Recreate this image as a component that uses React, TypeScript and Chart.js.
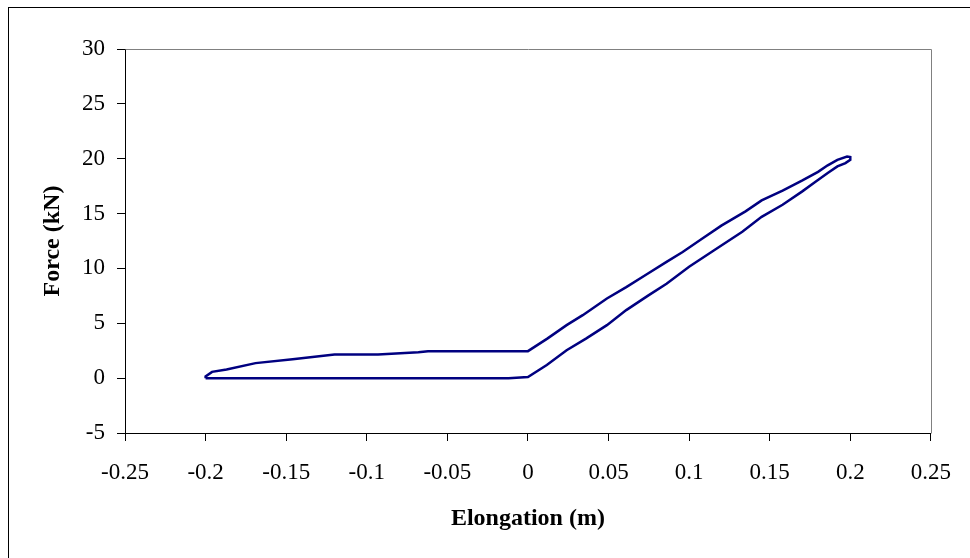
import React, { useEffect, useRef } from "react";
import { Chart, registerables } from "chart.js";

Chart.register(...registerables);

// Hysteresis loop, traced in order (closed)
const elongation: number[] = [
  -0.2, -0.1, -0.012, 0,
  0.0117, 0.024, 0.036, 0.049, 0.061, 0.075, 0.086, 0.1, 0.116, 0.133, 0.145, 0.158, 0.17, 0.178, 0.186, 0.192, 0.197, 0.2, 0.2, 0.198,
  0.192, 0.186, 0.18, 0.17, 0.158, 0.145, 0.135, 0.12, 0.108, 0.096, 0.086, 0.073, 0.061, 0.049, 0.034, 0.024, 0.012, 0,
  -0.062, -0.068, -0.093, -0.12, -0.146, -0.169, -0.187, -0.196, -0.2, -0.2,
];
const force: number[] = [
  0, 0, 0, 0.1,
  1.19, 2.55, 3.6, 4.83, 6.2, 7.57, 8.6, 10.15, 11.7, 13.35, 14.7, 15.8, 17.0, 17.85, 18.7, 19.3, 19.6, 19.9, 20.15, 20.2,
  19.9, 19.4, 18.8, 18.0, 17.1, 16.2, 15.2, 13.9, 12.7, 11.5, 10.6, 9.4, 8.3, 7.26, 5.74, 4.83, 3.6, 2.46,
  2.46, 2.35, 2.15, 2.15, 1.73, 1.37, 0.79, 0.57, 0.15, 0,
];

const xTitle = "Elongation (m)";
const yTitle = "Force (kN)";
const xMin = -0.25, xMax = 0.25, xStep = 0.05;
const yMin = -5, yMax = 30, yStep = 5;

const FONT = "'Liberation Serif', 'Times New Roman', serif";

const plotBorder = {
  id: "plotBorder",
  beforeDatasetsDraw(chart: any) {
    const { ctx, chartArea } = chart;
    const { left, right, top, bottom } = chartArea;
    ctx.save();
    ctx.strokeStyle = "#808080";
    ctx.lineWidth = 1;
    ctx.beginPath();
    ctx.moveTo(Math.round(left) + 0.5, Math.round(top) + 0.5);
    ctx.lineTo(Math.round(right) + 0.5, Math.round(top) + 0.5);
    ctx.lineTo(Math.round(right) + 0.5, Math.round(bottom) + 0.5);
    ctx.stroke();
    ctx.restore();
  },
};

export default function App() {
  const ref = useRef<HTMLCanvasElement>(null);
  useEffect(() => {
    if (!ref.current) return;
    const data = elongation.map((x, i) => ({ x, y: force[i] }));
    const chart = new Chart(ref.current, {
      type: "scatter",
      data: {
        datasets: [
          {
            data,
            showLine: true,
            borderColor: "#000080",
            backgroundColor: "#000080",
            borderWidth: 2.5,
            pointRadius: 0,
            tension: 0,
            fill: false,
          },
        ],
      },
      options: {
        animation: false,
        responsive: false,
        devicePixelRatio: 1,
        layout: { padding: { left: 0, top: 41, right: 32, bottom: 0 } },
        plugins: { legend: { display: false }, tooltip: { enabled: false } },
        scales: {
          x: {
            type: "linear",
            min: xMin,
            max: xMax,
            afterFit: (s: any) => { s.height = 124; },
            ticks: {
              stepSize: xStep,
              color: "#000",
              padding: 18,
              font: { family: FONT, size: 23 },
              maxRotation: 0,
              callback: (v: any) => String(parseFloat(Number(v).toFixed(2))),
            },
            grid: { drawOnChartArea: false, drawTicks: true, tickLength: 8, color: "#000" },
            border: { display: true, color: "#000", width: 1 },
            title: {
              display: true,
              text: xTitle,
              color: "#000",
              font: { family: FONT, size: 24, weight: "bold" },
              padding: { top: 0, bottom: 24 },
            },
          },
          y: {
            type: "linear",
            min: yMin,
            max: yMax,
            afterFit: (s: any) => { s.width = 116; },
            ticks: {
              stepSize: yStep,
              color: "#000",
              padding: 12,
              font: { family: FONT, size: 23 },
            },
            grid: { drawOnChartArea: false, drawTicks: true, tickLength: 8, color: "#000" },
            border: { display: true, color: "#000", width: 1 },
            title: {
              display: true,
              text: yTitle,
              color: "#000",
              font: { family: FONT, size: 24, weight: "bold" },
              padding: { top: 29, bottom: 0 },
            },
          },
        },
      },
      plugins: [plotBorder],
    });
    return () => chart.destroy();
  }, []);
  return (
    <div
      style={{
        position: "absolute",
        left: 8,
        top: 7,
        width: 961,
        height: 550,
        borderLeft: "1px solid #000",
        borderTop: "1px solid #000",
        background: "#fff",
        overflow: "hidden",
      }}
    >
      <canvas ref={ref} width={960} height={549} style={{ display: "block", width: 960, height: 549 }} />
    </div>
  );
}
